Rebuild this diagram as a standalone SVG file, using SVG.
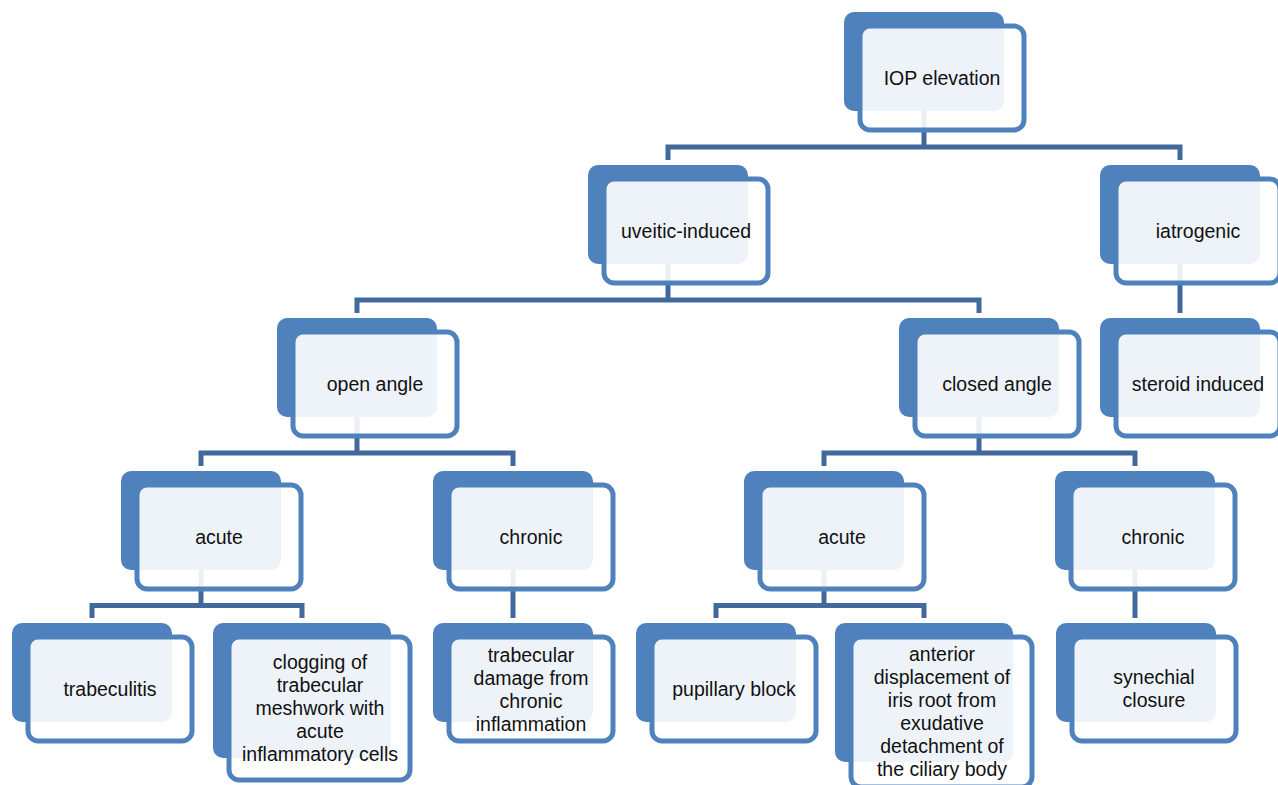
<svg xmlns="http://www.w3.org/2000/svg" width="1278" height="785" viewBox="0 0 1278 785">
<style>
.back{fill:#4f81bd}
.front{fill:#ffffff;fill-opacity:0.9;stroke:#4f81bd;stroke-width:5}
.t{font-family:"Liberation Sans",Arial,sans-serif;font-size:19.5px;fill:#111;text-anchor:middle}
.conn path{fill:none;stroke:#41699c;stroke-width:5;stroke-linejoin:miter}
</style>
<rect width="1278" height="785" fill="#ffffff"/>
<g class="conn" id="connectors">
<path d="M924,100 V147"/>
<path d="M668,160 V147 H1180 V160"/>
<path d="M668,255 V300"/>
<path d="M357,313 V300 H979 V313"/>
<path d="M1180,255 V313"/>
<path d="M357,408 V453"/>
<path d="M201,466 V453 H513 V466"/>
<path d="M979,408 V453"/>
<path d="M824,466 V453 H1135 V466"/>
<path d="M201,561 V605.5"/>
<path d="M92,618 V605.5 H302 V618"/>
<path d="M513,561 V618"/>
<path d="M824,561 V605.5"/>
<path d="M716,618 V605.5 H924 V618"/>
<path d="M1135,561 V618"/>
</g>
<g id="n-iop"><rect class="back" x="844" y="12" width="160" height="99" rx="10"/><rect class="front" x="860" y="26" width="164" height="104" rx="10"/><text class="t" x="942" y="84.5">IOP elevation</text></g>
<g id="n-uveitic"><rect class="back" x="588" y="165" width="160" height="99" rx="10"/><rect class="front" x="604" y="179" width="164" height="104" rx="10"/><text class="t" x="686" y="237.5">uveitic-induced</text></g>
<g id="n-iatrogenic"><rect class="back" x="1100" y="165" width="160" height="99" rx="10"/><rect class="front" x="1116" y="179" width="164" height="104" rx="10"/><text class="t" x="1198" y="237.5">iatrogenic</text></g>
<g id="n-open"><rect class="back" x="277" y="318" width="160" height="99" rx="10"/><rect class="front" x="293" y="332" width="164" height="104" rx="10"/><text class="t" x="375" y="390.5">open angle</text></g>
<g id="n-closed"><rect class="back" x="899" y="318" width="160" height="99" rx="10"/><rect class="front" x="915" y="332" width="164" height="104" rx="10"/><text class="t" x="997" y="390.5">closed angle</text></g>
<g id="n-steroid"><rect class="back" x="1100" y="318" width="160" height="99" rx="10"/><rect class="front" x="1116" y="332" width="164" height="104" rx="10"/><text class="t" x="1198" y="390.5">steroid induced</text></g>
<g id="n-oa-acute"><rect class="back" x="121" y="471" width="160" height="99" rx="10"/><rect class="front" x="137" y="485" width="164" height="104" rx="10"/><text class="t" x="219" y="543.5">acute</text></g>
<g id="n-oa-chronic"><rect class="back" x="433" y="471" width="160" height="99" rx="10"/><rect class="front" x="449" y="485" width="164" height="104" rx="10"/><text class="t" x="531" y="543.5">chronic</text></g>
<g id="n-ca-acute"><rect class="back" x="744" y="471" width="160" height="99" rx="10"/><rect class="front" x="760" y="485" width="164" height="104" rx="10"/><text class="t" x="842" y="543.5">acute</text></g>
<g id="n-ca-chronic"><rect class="back" x="1055" y="471" width="160" height="99" rx="10"/><rect class="front" x="1071" y="485" width="164" height="104" rx="10"/><text class="t" x="1153" y="543.5">chronic</text></g>
<g id="n-trabeculitis"><rect class="back" x="12" y="623" width="160" height="99" rx="10"/><rect class="front" x="28" y="637" width="164" height="104" rx="10"/><text class="t" x="110" y="695.5">trabeculitis</text></g>
<g id="n-clogging"><rect class="back" x="213" y="623" width="178" height="135" rx="10"/><rect class="front" x="229" y="637" width="181" height="143" rx="10"/><text class="t"><tspan x="320" y="669">clogging of</tspan><tspan x="320" y="692">trabecular</tspan><tspan x="320" y="715">meshwork with</tspan><tspan x="320" y="738">acute</tspan><tspan x="320" y="761">inflammatory cells</tspan></text></g>
<g id="n-trab-damage"><rect class="back" x="433" y="623" width="160" height="99" rx="10"/><rect class="front" x="449" y="637" width="164" height="104" rx="10"/><text class="t"><tspan x="531" y="661.5">trabecular</tspan><tspan x="531" y="684.5">damage from</tspan><tspan x="531" y="707.5">chronic</tspan><tspan x="531" y="730.5">inflammation</tspan></text></g>
<g id="n-pupillary"><rect class="back" x="636" y="623" width="160" height="99" rx="10"/><rect class="front" x="652" y="637" width="164" height="104" rx="10"/><text class="t" x="734" y="695.5">pupillary block</text></g>
<g id="n-anterior"><rect class="back" x="835" y="623" width="178" height="139" rx="10"/><rect class="front" x="851" y="637" width="181" height="150" rx="10"/><text class="t"><tspan x="942" y="661">anterior</tspan><tspan x="942" y="684">displacement of</tspan><tspan x="942" y="707">iris root from</tspan><tspan x="942" y="730">exudative</tspan><tspan x="942" y="753">detachment of</tspan><tspan x="942" y="776">the ciliary body</tspan></text></g>
<g id="n-synechial"><rect class="back" x="1056" y="623" width="160" height="99" rx="10"/><rect class="front" x="1072" y="637" width="164" height="104" rx="10"/><text class="t"><tspan x="1154" y="684">synechial</tspan><tspan x="1154" y="707">closure</tspan></text></g>
</svg>
